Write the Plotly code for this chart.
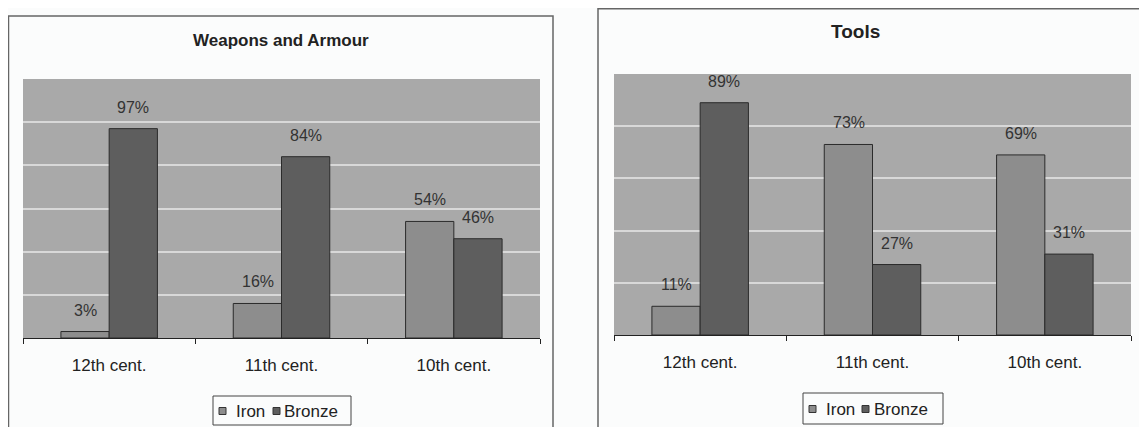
import plotly.graph_objects as go

# dos graficos de barras lado a lado (armas y herramientas), hierro vs bronce por siglo

siglos = ['12th cent.', '11th cent.', '10th cent.']

armas_hierro = [0.03, 0.16, 0.54]
armas_bronce = [0.97, 0.84, 0.46]

herr_hierro = [0.11, 0.73, 0.69]
herr_bronce = [0.89, 0.27, 0.31]

series = ['Iron', 'Bronze']
titulo_armas = 'Weapons and Armour'
titulo_herr = 'Tools'

# la pagina html tiene 8px de margen en el body, por eso la figura es un poco mas chica
# y las posiciones se corrigen con ese desplazamiento
W, H = 1147, 427
OFF = 8
FW, FH = W - OFF, H - OFF
FUENTE = 'Arial, Liberation Sans, sans-serif'
GRIS_HIERRO = '#8d8d8d'
GRIS_BRONCE = '#5e5e5e'
colores = [GRIS_HIERRO, GRIS_BRONCE]


def fx(p):
    # pixel de la pantalla -> fraccion del papel en x
    return (p - OFF) / FW


def fy(p):
    # pixel de la pantalla -> fraccion del papel en y (medido desde arriba)
    return 1 - (p - OFF) / FH


fig = go.Figure()

for ejes, datos in [('', [armas_hierro, armas_bronce]), ('2', [herr_hierro, herr_bronce])]:
    for nombre, color, vals in zip(series, colores, datos):
        fig.add_trace(go.Bar(
            x=siglos, y=vals, name=nombre, showlegend=False,
            marker=dict(color=color, line=dict(color='#2b2b2b', width=1)),
            xaxis='x' + ejes, yaxis='y' + ejes
        ))

# etiquetas de porcentaje arriba de cada barra (como anotaciones, asi quedan mas separadas)
anotaciones = []
for ejes, datos in [('', [armas_hierro, armas_bronce]), ('2', [herr_hierro, herr_bronce])]:
    for vals, corr in zip(datos, [-24, 24]):
        for s, v in zip(siglos, vals):
            anotaciones.append(dict(
                x=s, y=v, xref='x' + ejes, yref='y' + ejes, text=f'{round(v * 100)}%',
                showarrow=False, yanchor='bottom', xshift=corr, yshift=11,
                font=dict(family=FUENTE, size=16, color='#333333')
            ))

anotaciones.append(dict(x=fx(281), y=fy(40), xref='paper', yref='paper', text='<b>' + titulo_armas + '</b>',
                        showarrow=False, xanchor='center', yanchor='middle',
                        font=dict(family=FUENTE, size=17, color='#222222')))
anotaciones.append(dict(x=fx(855), y=fy(32), xref='paper', yref='paper', text='<b>' + titulo_herr + '</b>',
                        showarrow=False, xanchor='center', yanchor='middle',
                        font=dict(family=FUENTE, size=19, color='#222222')))

# los marcos de cada grafico (abiertos por abajo, se cortan en el borde de la imagen)
formas = [
    dict(type='rect', xref='paper', yref='paper', x0=fx(8.5), x1=fx(553), y0=-0.05, y1=fy(16),
         line=dict(color='#666666', width=1.5), layer='below'),
    dict(type='rect', xref='paper', yref='paper', x0=fx(598), x1=fx(1143), y0=-0.05, y1=fy(8.7),
         line=dict(color='#666666', width=1.5), layer='below'),
]

# leyendas dibujadas a mano: caja, cuadradito de color y texto (la de plotly quedaba muy ancha)
for caja, cuadros, textos, yc in [
    ((213, 351, 396, 425), [219, 273], [235, 283], 411),
    ((803, 943, 393, 424), [809, 862], [825, 873], 409),
]:
    formas.append(dict(type='rect', xref='paper', yref='paper', x0=fx(caja[0]), x1=fx(caja[1]),
                       y0=fy(caja[3]), y1=fy(caja[2]), line=dict(color='#444444', width=1)))
    for nombre, color, xq, xt in zip(series, colores, cuadros, textos):
        formas.append(dict(type='rect', xref='paper', yref='paper', x0=fx(xq), x1=fx(xq + 7),
                           y0=fy(yc + 3.5), y1=fy(yc - 3.5), fillcolor=color,
                           line=dict(color='#333333', width=1)))
        anotaciones.append(dict(x=fx(xt - 1), y=fy(yc), xref='paper', yref='paper', text=nombre,
                                showarrow=False, xanchor='left', yanchor='middle',
                                font=dict(family=FUENTE, size=17, color='#222222')))

eje_x = dict(type='category', showline=True, linecolor='#222222', linewidth=1, ticks='outside', tickson='boundaries',
             ticklen=5, tickcolor='#222222', tickfont=dict(family=FUENTE, size=17, color='#222222'),
             ticklabelstandoff=12, showgrid=False, zeroline=False, fixedrange=True)
eje_y = dict(showticklabels=False, showgrid=True, gridcolor='#d8d8d8', gridwidth=1.5, zeroline=False,
             showline=False, ticks='', fixedrange=True)

fig.update_layout(
    width=FW, height=FH,
    margin=dict(l=0, r=0, t=0, b=0),
    paper_bgcolor='#fbfcfc', plot_bgcolor='#a9a9a9',
    barmode='group', bargap=0.44, bargroupgap=0,
    font=dict(family=FUENTE, color='#222222'),
    xaxis=dict(eje_x, domain=[fx(23), fx(540)], anchor='y'),
    yaxis=dict(eje_y, domain=[fy(338), fy(79)], range=[0, 1.2], dtick=0.2, anchor='x'),
    xaxis2=dict(eje_x, domain=[fx(614), fx(1131)], anchor='y2'),
    yaxis2=dict(eje_y, domain=[fy(335), fy(74)], range=[0, 1.0], dtick=0.2, anchor='x2'),
    annotations=anotaciones,
    shapes=formas,
    showlegend=False,
)

fig.write_html('out.html')
